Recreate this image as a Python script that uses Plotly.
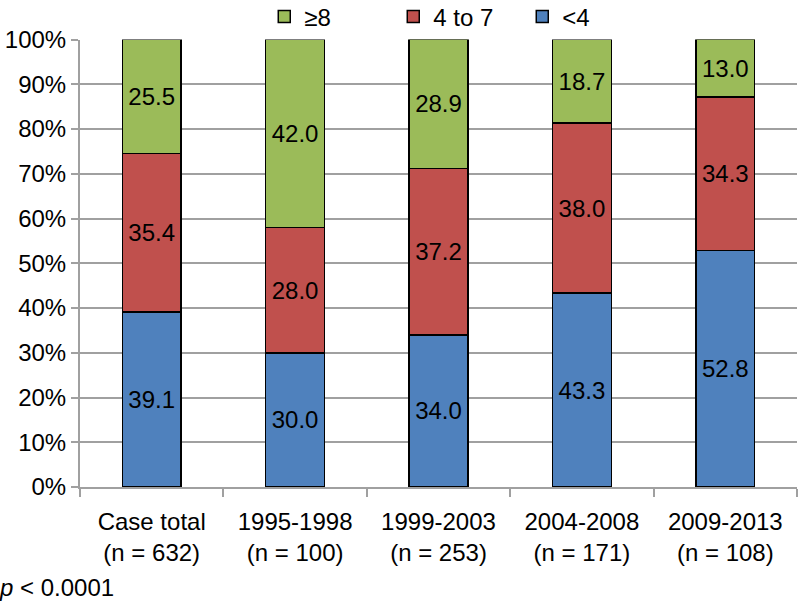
import plotly.graph_objects as go

categories = ["Case total<br>(n = 632)", "1995-1998<br>(n = 100)", "1999-2003<br>(n = 253)",
              "2004-2008<br>(n = 171)", "2009-2013<br>(n = 108)"]
lt4 = [39.1, 30.0, 34.0, 43.3, 52.8]
mid = [35.4, 28.0, 37.2, 38.0, 34.3]
ge8 = [25.5, 42.0, 28.9, 18.7, 13.0]
tick_vals = [0, 10, 20, 30, 40, 50, 60, 70, 80, 90, 100]
tick_text = ["0%", "10%", "20%", "30%", "40%", "50%", "60%", "70%", "80%", "90%", "100%"]

FONT = "Liberation Sans, Arial, sans-serif"
FS = 24
fig = go.Figure()
for name, vals, color in [("&lt;4", lt4, "#4F81BD"), ("4 to 7", mid, "#C0504D"), ("≥8", ge8, "#9BBB59")]:
    fig.add_trace(go.Bar(
        x=categories, y=vals, name=name,
        marker=dict(color=color, line=dict(color="#000000", width=1.5)),
        texttemplate="%{y:.1f}", textposition="inside", insidetextanchor="middle",
        textangle=0, constraintext="none",
        textfont=dict(family=FONT, size=FS, color="#000000"),
        width=0.41,
    ))

fig.update_layout(
    barmode="stack",
    width=800, height=602,
    paper_bgcolor="white", plot_bgcolor="white",
    margin=dict(l=80, r=3, t=36, b=115),
    font=dict(family=FONT, size=FS, color="#000000"),
    legend=dict(orientation="h", x=0.257, xanchor="left", xref="paper",
                y=1 - 17 / 602, yanchor="middle", yref="container",
                traceorder="reversed", font=dict(size=FS), itemwidth=30,
                entrywidth=84, entrywidthmode="pixels", bgcolor="rgba(0,0,0,0)"),
    showlegend=True,
)
fig.update_xaxes(
    type="category", tickson="boundaries", ticks="outside", ticklen=8,
    tickcolor="#A0A0A0", tickwidth=2, showline=True, linecolor="#A0A0A0", linewidth=2,
    showgrid=False, tickfont=dict(size=FS), automargin=False, ticklabelstandoff=12,
)
fig.update_yaxes(
    range=[0, 100], tickmode="array", tickvals=tick_vals, ticktext=tick_text,
    ticks="outside", ticklen=7,
    tickcolor="#A0A0A0", tickwidth=2, showline=True, linecolor="#A0A0A0", linewidth=2,
    showgrid=True, gridcolor="#A0A0A0", gridwidth=2, zeroline=False,
    tickfont=dict(size=FS), automargin=False,
)
fig.add_annotation(text="<i>p</i> &lt; 0.0001", xref="paper", yref="paper",
                   x=-0.116, y=-0.224, xanchor="left", yanchor="middle", showarrow=False,
                   font=dict(size=FS))
fig.write_html("out.html", post_script="document.body.style.margin='0';",
               config={"displayModeBar": False})
